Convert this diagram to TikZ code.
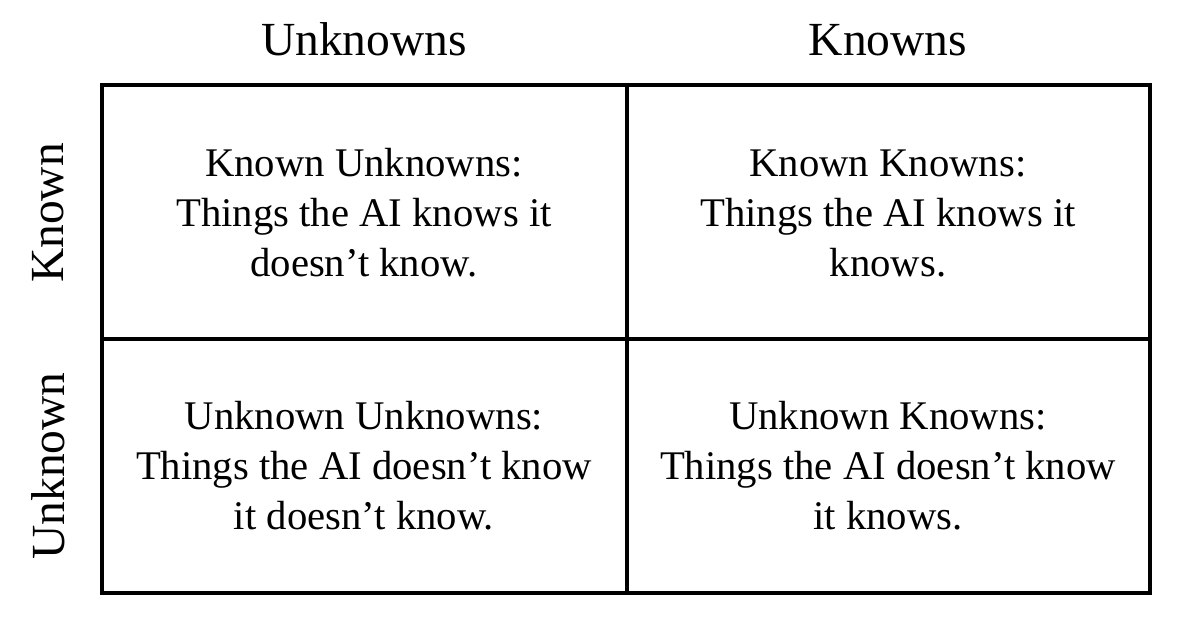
\documentclass[tikz,border=0pt]{standalone}
\usepackage{fontspec}
\setmainfont{Liberation Serif}
\begin{document}
\begin{tikzpicture}[x=1pt,y=1pt,
  grid/.style={line width=4pt,draw=black},
  celltext/.style={align=center,font=\fontsize{40.7}{50}\selectfont,inner sep=0pt},
  headtext/.style={font=\fontsize{47.5}{57}\selectfont,inner sep=0pt}]
\useasboundingbox (0,0) rectangle (1178,624);
% outer frame and dividers
\coordinate (tl) at (102,539);
\coordinate (br) at (1150,31);
\coordinate (mt) at (626.5,539);
\coordinate (mb) at (626.5,31);
\coordinate (ml) at (102,284.5);
\coordinate (mr) at (1150,284.5);
\draw[grid] (tl) rectangle (br);
\draw[grid] (mt) -- (mb);
\draw[grid] (ml) -- (mr);
% column headings
\node[headtext,anchor=base] (colU) at (364,568) {Unknowns};
\node[headtext,anchor=base] (colK) at (888,568) {Knowns};
% row headings
\node[headtext,rotate=90] (rowK) at (48,411) {Known};
\node[headtext,rotate=90] (rowU) at (48,158) {Unknown};
% quadrants
\node[celltext] (ku) at (364,411) {Known Unknowns:\\Things the AI knows it\\doesn’t know.};
\node[celltext] (kk) at (888,411) {Known Knowns:\\Things the AI knows it\\knows.};
\node[celltext] (uu) at (364,158) {Unknown Unknowns:\\Things the AI doesn’t know\\it doesn’t know.};
\node[celltext] (uk) at (888,158) {Unknown Knowns:\\Things the AI doesn’t know\\it knows.};
\end{tikzpicture}
\end{document}
